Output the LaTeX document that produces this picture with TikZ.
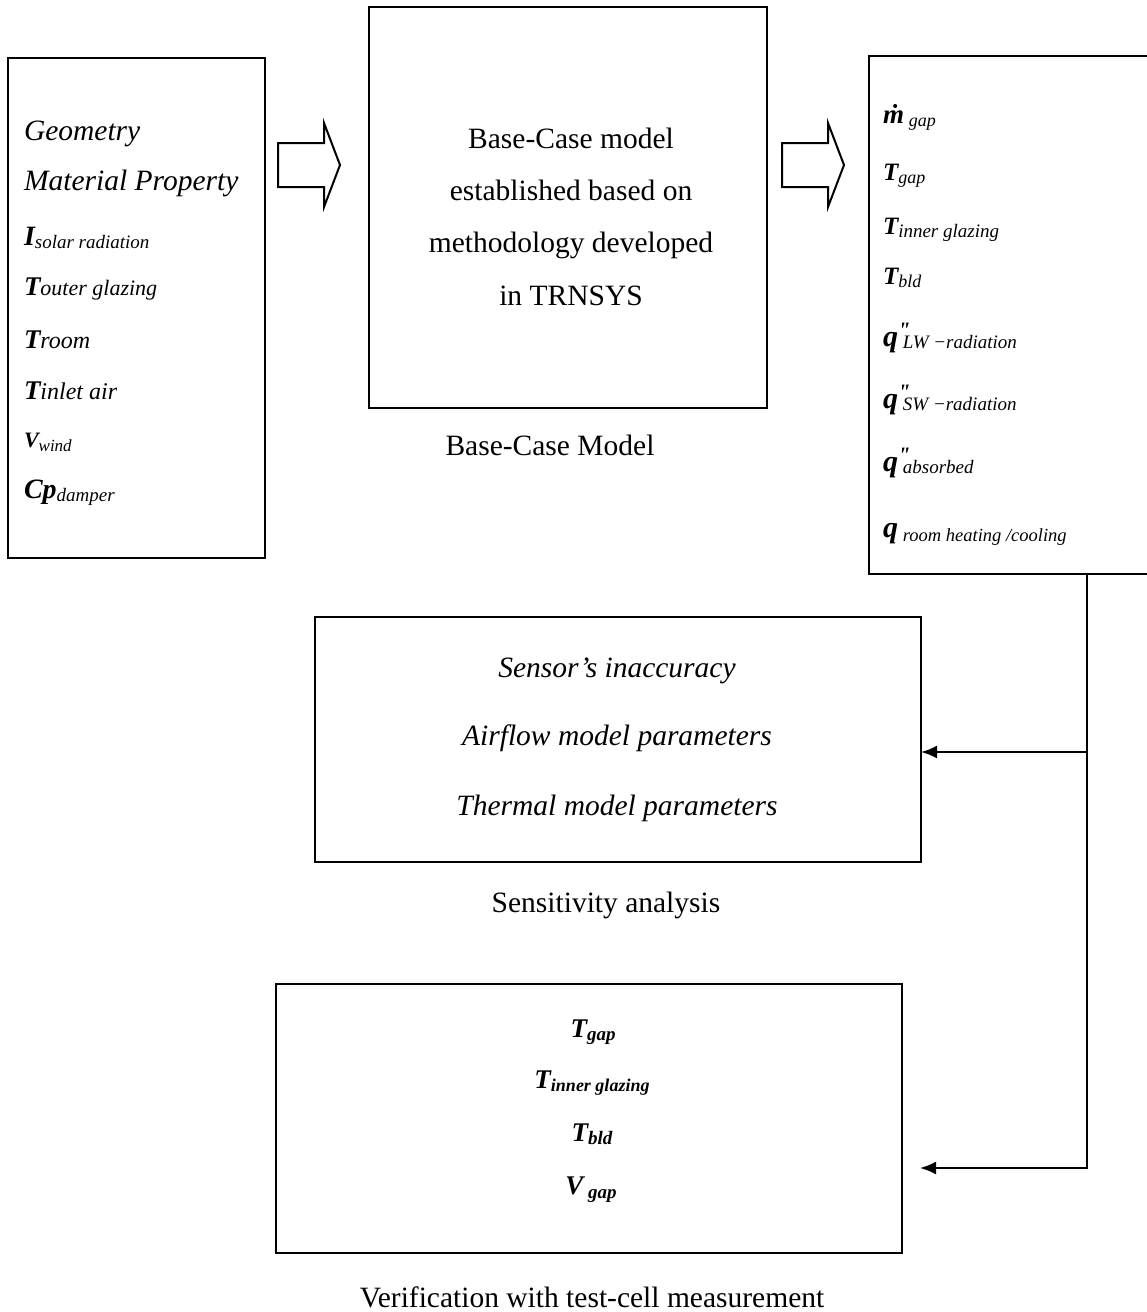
\documentclass[tikz,border=0pt]{standalone}
\usepackage{fontspec}
\setmainfont{Liberation Serif}
\usetikzlibrary{arrows.meta}
\newcommand\fs[1]{\fontsize{#1}{#1}\selectfont}
\newcommand\bit[2]{{\fs{#1}\bfseries\itshape #2}}
\newcommand\itx[2]{{\fs{#1}\itshape #2}}
\newcommand\lowd[2]{\raisebox{-#1pt}{#2}}
\newcommand\dprime{\rlap{\raisebox{9pt}{\fs{22}\bfseries\itshape \textquotedbl}}}
\begin{document}
\begin{tikzpicture}[x=1pt,y=-1pt,
  box/.style={draw, rectangle, inner sep=0pt, outer sep=0pt},
  thinbox/.style={box, line width=1.6pt},
  thickbox/.style={box, line width=2.8pt},
  txt/.style={inner sep=0pt, outer sep=0pt, anchor=base west, font=\fs{29.5}},
  ctxt/.style={inner sep=0pt, outer sep=0pt, anchor=base, font=\fs{29.5}},
  hollow/.style={draw, line width=2pt, line join=miter, fill=white},
  conn/.style={line width=2pt},
  tip/.style={-{Latex[length=16pt,width=13pt]}}
]
\useasboundingbox (0,0) rectangle (1146,1312);

% boxes
\node[thinbox, minimum width=257pt, minimum height=500pt] (lbox) at (136.5,308) {};
\node[thickbox, minimum width=398pt, minimum height=401pt] (mbox) at (568,207.5) {};
\node[thinbox, line width=1.4pt, minimum width=281pt, minimum height=518pt] (rbox) at (1009.5,315) {};
\node[thickbox, minimum width=606pt, minimum height=245pt] (sens) at (618,739.5) {};
\node[thickbox, minimum width=626pt, minimum height=269pt] (ver) at (589,1118.5) {};

% hollow arrows
\draw[hollow] (278,143) -- (324,143) -- (324,123) -- (340,165) -- (324,207) -- (324,187) -- (278,187) -- cycle;
\draw[hollow] (782,143) -- (828,143) -- (828,123) -- (844,165) -- (828,207) -- (828,187) -- (782,187) -- cycle;

% left box texts
\node[txt] (l1) at (24,140) {\itshape Geometry};
\node[txt] (l2) at (24,190) {\itshape Material Property};
\node[txt] (l3) at (24,245) {\bit{28}{I}\lowd{3}{\itx{19}{solar radiation}}};
\node[txt] (l4) at (24,295) {\bit{27}{T}\itx{22}{outer glazing}};
\node[txt] (l5) at (24,348) {\bit{27}{T}\itx{24}{room}};
\node[txt] (l6) at (24,399) {\bit{27}{T}\itx{24}{inlet air}};
\node[txt] (l7) at (24,447) {\bit{22}{V}\lowd{4}{\itx{17}{wind}}};
\node[txt] (l8) at (24,498) {\bit{28}{Cp}\lowd{3}{\itx{19}{damper}}};

% middle box texts
\node[ctxt] (m1) at (571,148) {Base-Case model};
\node[ctxt] (m2) at (571,200) {established based on};
\node[ctxt] (m3) at (571,252) {methodology developed};
\node[ctxt] (m4) at (571,305) {in TRNSYS};
\node[ctxt] (mlab) at (550,455) {Base-Case Model};

% right box texts
\node[txt] (r1) at (883,123) {\bit{27}{\.{m}}\,\lowd{3}{\itx{18}{gap}}};
\node[txt] (r2) at (883,180) {\bit{25}{T}\lowd{3}{\itx{18}{gap}}};
\node[txt] (r3) at (883,234) {\bit{25}{T}\lowd{3}{\itx{19}{inner glazing}}};
\node[txt] (r4) at (883,284) {\bit{25}{T}\lowd{3}{\itx{18}{bld}}};
\node[txt] (r5) at (883,346) {\bit{30}{q}\dprime\,\lowd{2}{\itx{19}{LW −radiation}}};
\node[txt] (r6) at (883,408) {\bit{30}{q}\dprime\,\lowd{2}{\itx{19}{SW −radiation}}};
\node[txt] (r7) at (883,471) {\bit{30}{q}\dprime\,\lowd{2}{\itx{19}{absorbed}}};
\node[txt] (r8) at (883,537) {\bit{30}{q}\,\lowd{4}{\itx{18.5}{room heating /cooling}}};

% sensitivity box texts
\node[ctxt] (s1) at (617,677) {\itshape Sensor’s inaccuracy};
\node[ctxt] (s2) at (617,745) {\itshape Airflow model parameters};
\node[ctxt] (s3) at (617,815) {\itshape Thermal model parameters};
\node[ctxt] (slab) at (606,912) {Sensitivity analysis};

% verification box texts
\node[ctxt] (v1) at (593,1037) {\bit{27}{T}\lowd{3}{\bit{19}{gap}}};
\node[ctxt] (v2) at (592,1088) {\bit{27}{T}\lowd{3}{\bit{18}{inner glazing}}};
\node[ctxt] (v3) at (592,1141) {\bit{27}{T}\lowd{3}{\bit{19}{bld}}};
\node[ctxt] (v4) at (591,1194) {\bit{27}{V}\,\lowd{4}{\bit{19}{gap}}};
\node[ctxt] (vlab) at (592,1307) {Verification with test-cell measurement};

% connectors
\coordinate (j1) at (1087,752);
\coordinate (j2) at (1087,1168);
\coordinate (vtip) at (920,1168);
\draw[conn, tip] (rbox.south -| j1) -- (j2) -- (vtip);
\draw[conn, tip] (j1) -- (sens.east |- j1);
\end{tikzpicture}
\end{document}
